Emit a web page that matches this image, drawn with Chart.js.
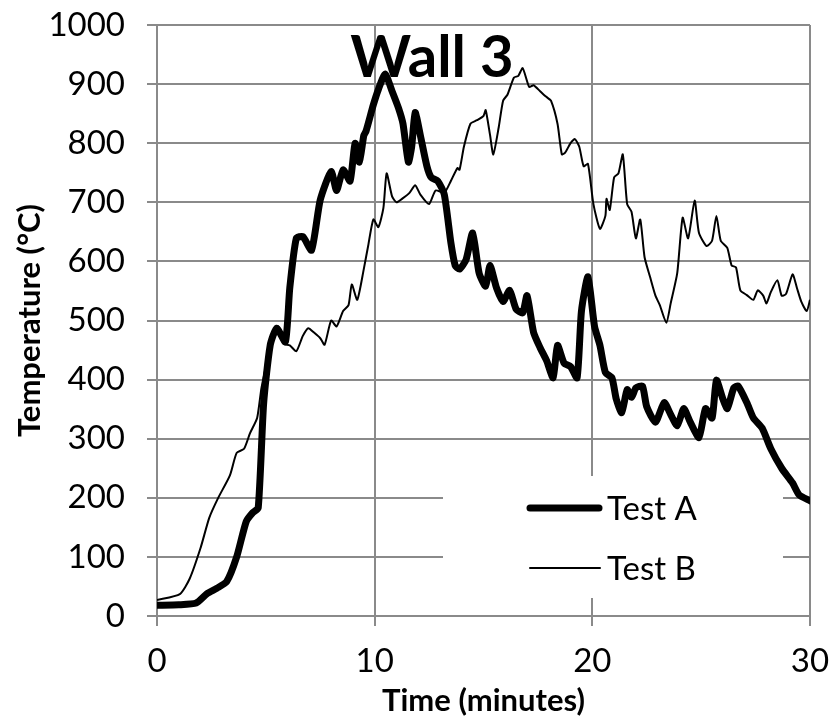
<!DOCTYPE html>
<html>
<head>
<meta charset="utf-8">
<title>Wall 3</title>
<script src="https://cdn.jsdelivr.net/npm/chart.js@4"></script>
<style>
    body { margin: 0; background: #fff; }
    canvas { display: block; }
</style>
</head>
<body>
<canvas id="wall3" width="830" height="722"></canvas>
<script>
// time (minutes) and temperature (°C)
var timeA = [0, 1.0, 1.8, 2.3, 2.75, 3.2, 3.66, 4.1, 4.4, 4.65, 4.9, 5.2, 5.5, 5.9, 6.1, 6.4, 6.7, 7.1, 7.5, 8.0,
    8.25, 8.55, 8.87, 9.1, 9.3, 9.5, 9.6, 9.94, 10.17, 10.48, 10.8, 11.1, 11.3, 11.55, 11.7, 11.86, 12.1, 12.4, 12.6, 12.9,
    13.2, 13.5, 13.7, 13.9, 14.2, 14.5, 14.8, 15.1, 15.3, 15.6, 15.9, 16.2, 16.5, 16.8, 17.0, 17.3, 17.6, 17.9, 18.2, 18.4,
    18.7, 19.0, 19.3, 19.5, 19.8, 20.1, 20.35, 20.6, 20.9, 21.1, 21.35, 21.6, 21.8, 22.0, 22.3, 22.5, 22.9, 23.3, 23.6, 23.9,
    24.2, 24.5, 24.9, 25.2, 25.5, 25.7, 26.0, 26.2, 26.5, 26.7, 27.1, 27.4, 27.8, 28.2, 28.7, 29.2, 29.5, 30.0];
var tempA = [18, 19, 22, 38, 47, 58, 100, 160, 175, 183, 360, 458, 487, 464, 555, 639, 642, 619, 704, 752,
    720, 755, 736, 800, 768, 813, 820, 865, 891, 917, 888, 859, 833, 768, 794, 852, 813, 761, 742, 736,
    713, 632, 593, 587, 603, 648, 580, 558, 593, 555, 532, 551, 519, 513, 542, 480, 454, 432, 403, 458,
    428, 422, 403, 516, 574, 490, 458, 412, 403, 367, 344, 383, 370, 386, 389, 354, 328, 361, 341, 322,
    351, 328, 302, 351, 335, 399, 367, 351, 386, 389, 361, 335, 318, 283, 250, 225, 205, 195];

var timeB = [0, 1.05, 1.5, 2.0, 2.4, 2.8, 3.35, 3.66, 4.0, 4.27, 4.6, 4.8, 5.1, 5.35, 5.57, 5.8, 6.1, 6.4, 6.7, 6.95,
    7.2, 7.5, 7.7, 8.0, 8.25, 8.55, 8.8, 8.95, 9.2, 9.5, 9.7, 9.94, 10.17, 10.4, 10.55, 10.8, 11.0, 11.3, 11.6, 11.86,
    12.1, 12.5, 12.8, 13.2, 13.5, 13.8, 13.9, 14.1, 14.4, 14.7, 15.0, 15.1, 15.3, 15.45, 15.7, 15.9, 16.1, 16.4, 16.6, 16.8,
    17.1, 17.3, 17.6, 17.9, 18.1, 18.4, 18.6, 18.75, 19.0, 19.2, 19.4, 19.6, 19.8, 20.05, 20.35, 20.6, 20.65, 20.8, 21.0, 21.2,
    21.4, 21.6, 21.8, 22.0, 22.2, 22.4, 22.65, 22.9, 23.1, 23.4, 23.6, 23.9, 24.15, 24.4, 24.7, 24.9, 25.25, 25.5, 25.7, 25.9,
    26.2, 26.4, 26.6, 26.8, 27.1, 27.4, 27.6, 27.85, 28.0, 28.2, 28.5, 28.7, 28.9, 29.2, 29.4, 29.6, 29.85, 30.0];
var tempB = [27, 37, 63, 115, 166, 199, 238, 276, 283, 309, 335, 386, 438, 477, 490, 461, 458, 448, 474, 487,
    480, 470, 459, 500, 490, 516, 526, 561, 535, 587, 626, 671, 658, 690, 749, 710, 700, 707, 716, 729,
    713, 697, 720, 716, 736, 758, 755, 794, 833, 839, 846, 856, 814, 781, 827, 872, 882, 911, 914, 927,
    895, 898, 888, 878, 872, 833, 781, 784, 800, 807, 794, 761, 765, 697, 655, 677, 706, 687, 742, 749,
    781, 697, 684, 639, 671, 607, 574, 542, 526, 496, 529, 580, 674, 639, 703, 648, 626, 635, 677, 635,
    623, 593, 590, 551, 543, 535, 551, 542, 529, 548, 568, 542, 545, 578, 555, 532, 516, 535];

var seriesNames = ['Test A', 'Test B'];
var chartTitle = 'Wall 3';

function pts(xs, ys) {
    return xs.map(function (x, i) { return { x: x, y: ys[i] }; });
}

Chart.defaults.font.family = 'Lato';
Chart.defaults.color = '#000';

var gridGray = '#8a8a8a';

// title sits inside the plot, legend is a white box in the lower right
var wallDecor = {
    id: 'wallDecor',
    beforeDatasetsDraw: function (chart) {
        var ctx = chart.ctx;
        ctx.save();
        ctx.fillStyle = '#fff';
        ctx.fillRect(443, 476, 340, 122);
        ctx.restore();
    },
    afterDatasetsDraw: function (chart) {
        var ctx = chart.ctx;
        ctx.save();
        ctx.lineCap = 'round';
        ctx.strokeStyle = '#000';
        ctx.lineWidth = 7;
        ctx.beginPath(); ctx.moveTo(530, 508); ctx.lineTo(599, 508); ctx.stroke();
        ctx.lineWidth = 2;
        ctx.beginPath(); ctx.moveTo(530, 568); ctx.lineTo(600, 568); ctx.stroke();
        ctx.fillStyle = '#000';
        ctx.font = '33px Lato';
        ctx.textAlign = 'left';
        ctx.textBaseline = 'alphabetic';
        ctx.fillText(chart.data.datasets[0].label, 607, 520);
        ctx.fillText(chart.data.datasets[1].label, 607, 580);
        ctx.font = 'bold 58px Lato';
        ctx.textAlign = 'center';
        ctx.fillText(chartTitle, 432, 77);
        ctx.restore();
    }
};

var wall3 = document.getElementById('wall3').getContext('2d');
var wall3Chart = new Chart(wall3, {
    type: 'line',
    data: {
        datasets: [
            {
                label: seriesNames[0],
                data: pts(timeA, tempA),
                borderColor: '#000',
                borderWidth: 7,
                pointRadius: 0,
                tension: 0.2,
                borderJoinStyle: 'round',
                borderCapStyle: 'round',
                fill: false
            },
            {
                label: seriesNames[1],
                data: pts(timeB, tempB),
                borderColor: '#000',
                borderWidth: 2,
                pointRadius: 0,
                tension: 0.2,
                borderJoinStyle: 'round',
                fill: false
            }]
    },
    options: {
        responsive: false,
        animation: false,
        layout: { padding: { top: 25, right: 20, left: 0, bottom: 0 } },
        plugins: {
            legend: { display: false },
            tooltip: { enabled: false }
        },
        scales: {
            x: {
                type: 'linear',
                position: 'bottom',
                min: 0,
                max: 30,
                afterFit: function (scale) {
                    scale.height = 106;
                    scale.paddingLeft = 0;
                    scale.paddingRight = 0;
                },
                ticks: { stepSize: 10, padding: 16, font: { size: 33 }, color: '#000' },
                grid: { color: gridGray, lineWidth: 2, tickLength: 10 },
                border: { color: gridGray, width: 2 },
                title: {
                    display: true,
                    text: 'Time (minutes)',
                    font: { size: 31, weight: 'bold' },
                    color: '#000',
                    padding: { top: 0, bottom: 2 }
                }
            },
            y: {
                min: 0,
                max: 1000,
                afterFit: function (scale) {
                    scale.width = 157;
                    scale.paddingTop = 0;
                    scale.paddingBottom = 0;
                },
                ticks: {
                    stepSize: 100,
                    padding: 22,
                    font: { size: 33 },
                    color: '#000',
                    callback: function (v) { return String(v); }
                },
                grid: { color: gridGray, lineWidth: 2, tickLength: 10 },
                border: { color: gridGray, width: 2 },
                title: {
                    display: true,
                    text: 'Temperature (°C)',
                    font: { size: 31, weight: 'bold' },
                    color: '#000',
                    padding: { top: 11, bottom: 0 }
                }
            }
        }
    },
    plugins: [wallDecor]
});
</script>
</body>
</html>
